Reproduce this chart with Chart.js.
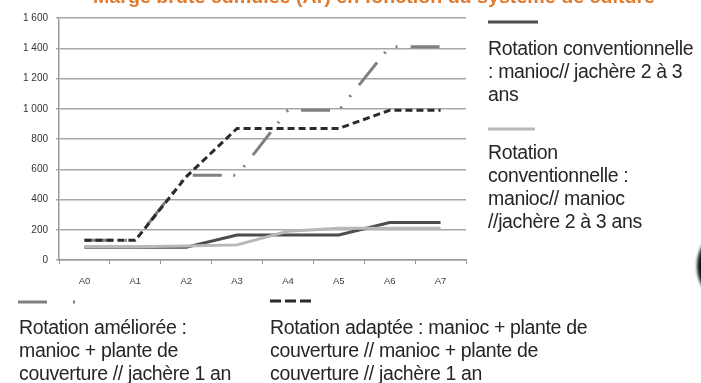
<!DOCTYPE html>
<html>
<head>
<meta charset="utf-8">
<script src="https://cdn.jsdelivr.net/npm/chart.js@4/dist/chart.umd.min.js"></script>
<style>
  html, body { margin: 0; padding: 0; background: #ffffff; }
  #wrap { width: 701px; height: 383px; position: relative; }
  canvas { display: block; }
</style>
</head>
<body>
<div id="wrap"><canvas id="c" width="701" height="383"></canvas></div>
<script>
// Years of the rotation
const years = ['A0', 'A1', 'A2', 'A3', 'A4', 'A5', 'A6', 'A7'];

// Cumulated gross margin (Ar) per cropping system
const conventionnelle = [85, 85, 85, 165, 165, 165, 248, 248];
const conventionnelleManioc = [88, 88, 92, 100, 190, 210, 210, 210];
const amelioree = [130, 130, 560, 560, 990, 990, 1410, 1410];
const adaptee = [130, 130, 550, 870, 870, 870, 990, 990];

// Y axis tick values
const yTicks = [0, 200, 400, 600, 800, 1000, 1200, 1400, 1600];

const titleText = 'Marge brute cumulée (Ar) en fonction du système de culture';

const legendRight = [
  { lines: ['Rotation conventionnelle', ': manioc// jachère 2 à 3', 'ans'] },
  { lines: ['Rotation', 'conventionnelle :', 'manioc// manioc', '//jachère 2 à 3 ans'] }
];
const legendBottom = [
  { lines: ['Rotation améliorée :', 'manioc + plante de', 'couverture // jachère 1 an'] },
  { lines: ['Rotation adaptée : manioc + plante de', 'couverture // manioc + plante de', 'couverture // jachère 1 an'] }
];

const COL_DARK = '#4d4d4d';
const COL_LIGHT = '#b8b8b8';
const COL_DASH = '#2b2b2b';
const COL_DASHDOT = '#808080';
// long dash, dot, dot
const DASHDOT = [29, 11.5, 2, 12.5, 2, 13];
const DASHED = [7, 4];

function fmt(v) {
  return String(v).replace(/\B(?=(\d{3})+(?!\d))/g, ' ');
}

const decorations = {
  id: 'decorations',
  afterDraw(chart) {
    const ctx = chart.ctx;
    ctx.save();

    // Title (top edge of the slide crops it)
    ctx.font = 'bold 18px "Liberation Sans", Arial, sans-serif';
    ctx.fillStyle = '#e07a2e';
    ctx.textBaseline = 'alphabetic';
    const tw = ctx.measureText(titleText).width;
    ctx.save();
    ctx.translate(93, 3);
    ctx.scale(562 / tw, 1);
    ctx.fillText(titleText, 0, 0);
    ctx.restore();

    // Legend samples
    ctx.lineCap = 'butt';
    ctx.lineWidth = 3;
    ctx.setLineDash([]);
    ctx.strokeStyle = COL_DARK;
    ctx.beginPath(); ctx.moveTo(488, 22); ctx.lineTo(538, 22); ctx.stroke();

    ctx.strokeStyle = COL_LIGHT;
    ctx.beginPath(); ctx.moveTo(488, 129); ctx.lineTo(535, 129); ctx.stroke();

    ctx.strokeStyle = COL_DASHDOT;
    ctx.beginPath(); ctx.moveTo(18, 302); ctx.lineTo(47, 302); ctx.stroke();
    ctx.beginPath(); ctx.moveTo(73, 302); ctx.lineTo(75, 302); ctx.stroke();

    ctx.strokeStyle = COL_DASH;
    ctx.setLineDash([11, 4]);
    ctx.beginPath(); ctx.moveTo(270, 301); ctx.lineTo(311, 301); ctx.stroke();
    ctx.setLineDash([]);

    // Legend texts
    ctx.fillStyle = '#262626';
    ctx.font = '19.5px "Liberation Sans", Arial, sans-serif';
    ctx.letterSpacing = '-0.35px';
    const drawBlock = (lines, x, y0, step) => {
      lines.forEach((t, i) => ctx.fillText(t, x, y0 + i * step));
    };
    drawBlock(legendRight[0].lines, 488, 55, 23);
    drawBlock(legendRight[1].lines, 488, 159, 23);
    drawBlock(legendBottom[0].lines, 19, 334, 23);
    drawBlock(legendBottom[1].lines, 270, 334, 23);
    ctx.letterSpacing = '0px';

    // Dark shape at the right border of the slide
    ctx.filter = 'blur(1.5px)';
    ctx.fillStyle = '#111111';
    ctx.beginPath();
    ctx.ellipse(727, 266, 30, 36, 0, 0, Math.PI * 2);
    ctx.fill();
    ctx.filter = 'none';

    ctx.restore();
  }
};

new Chart(document.getElementById('c'), {
  type: 'line',
  data: {
    labels: years,
    datasets: [
      { label: 'Rotation adaptée', data: adaptee, borderColor: COL_DASH, borderDash: DASHED, borderWidth: 3 },
      { label: 'Rotation améliorée', data: amelioree, borderColor: COL_DASHDOT, borderDash: DASHDOT, borderWidth: 3 },
      { label: 'Rotation conventionnelle : manioc // manioc // jachère', data: conventionnelleManioc, borderColor: COL_LIGHT, borderWidth: 3 },
      { label: 'Rotation conventionnelle : manioc // jachère', data: conventionnelle, borderColor: COL_DARK, borderWidth: 3 }
    ].map(d => Object.assign({ pointRadius: 0, tension: 0, fill: false, borderCapStyle: 'butt', borderJoinStyle: 'miter' }, d))
  },
  options: {
    responsive: false,
    devicePixelRatio: 1,
    animation: false,
    layout: { padding: { left: 0, top: 18, right: 235, bottom: 93 } },
    plugins: { legend: { display: false }, title: { display: false }, tooltip: { enabled: false } },
    scales: {
      x: {
        offset: true,
        afterFit(s) { s.height = 30; },
        grid: { offset: true, drawOnChartArea: false, drawTicks: true, tickLength: 4, color: '#9a9a9a', lineWidth: 1 },
        border: { color: '#9a9a9a', width: 1.5 },
        ticks: { color: '#404040', font: { family: '"Liberation Sans", Arial, sans-serif', size: 9.5 }, padding: 12, maxRotation: 0 }
      },
      y: {
        min: 0,
        max: 1600,
        afterFit(s) { s.width = 59; },
        afterBuildTicks(s) { s.ticks = yTicks.map(v => ({ value: v })); },
        grid: { color: '#a8a8a8', lineWidth: 1.5, tickLength: 3 },
        border: { color: '#9a9a9a', width: 1.5 },
        ticks: { color: '#333333', font: { family: '"Liberation Sans", Arial, sans-serif', size: 10 }, padding: 8, callback: v => fmt(v) }
      }
    }
  },
  plugins: [decorations]
});
</script>
</body>
</html>
